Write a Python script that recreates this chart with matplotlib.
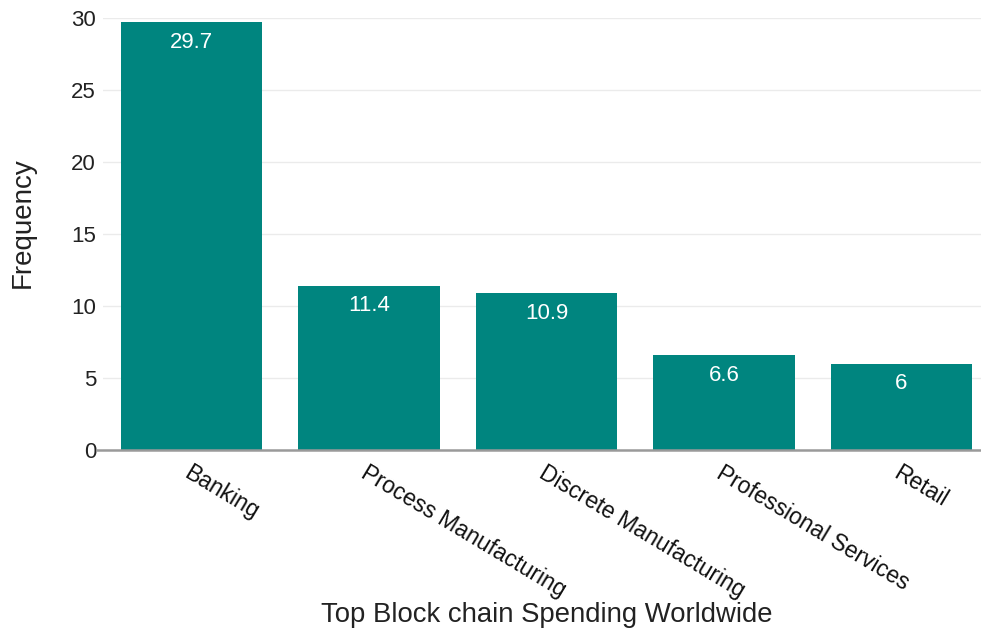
import matplotlib
matplotlib.use("Agg")
import matplotlib.pyplot as plt

categories = ["Banking", "Process Manufacturing", "Discrete Manufacturing",
              "Professional Services", "Retail"]
values = [29.7, 11.4, 10.9, 6.6, 6]
value_labels = ["29.7", "11.4", "10.9", "6.6", "6"]
yticks = [0, 5, 10, 15, 20, 25, 30]

plt.rcParams['font.family'] = ['Liberation Sans', 'DejaVu Sans']

fig = plt.figure(figsize=(9.81, 6.37), dpi=100)
ax = fig.add_axes([0.105, 0.2936, 0.895, 0.6781])

x = list(range(len(categories)))
ax.bar(x, values, width=0.795, color='#00857f', zorder=2)
for xi, v, lab in zip(x, values, value_labels):
    ax.annotate(lab, xy=(xi, v), xytext=(0, -14.5), textcoords='offset points',
                ha='center', va='center', color='white', fontsize=16, zorder=3)

ax.set_xlim(-0.4986, 4.448)
ax.set_ylim(0, 30)
ax.set_yticks(yticks)
ax.set_yticklabels([str(t) for t in yticks], fontsize=16, color='#222222')
ax.yaxis.grid(True, color='#ebebeb', linewidth=1.0, zorder=0)
ax.set_axisbelow(True)
ax.tick_params(axis='y', length=0, pad=5)
ax.tick_params(axis='x', length=0, pad=8)
ax.set_xticks(x)
ax.set_xticklabels(categories, rotation=-31, ha='left', rotation_mode='anchor',
                   fontsize=16.5, color='#111111')
for s in ['top', 'right', 'left']:
    ax.spines[s].set_visible(False)
ax.spines['bottom'].set_color('#9a9a9a')
ax.spines['bottom'].set_linewidth(1.8)
ax.spines['bottom'].set_bounds(-0.53, 4.448)
ax.spines['bottom'].set_zorder(3)

fig.text(23 / 981, 1 - 223 / 637, "Frequency", fontsize=20, color='#222222',
         rotation=90, ha='center', va='center')
fig.text(547 / 981, 1 - 615 / 637, "Top Block chain Spending Worldwide", fontsize=19.8,
         color='#222222', ha='center', va='center')

fig.savefig("out.png", dpi=100)
